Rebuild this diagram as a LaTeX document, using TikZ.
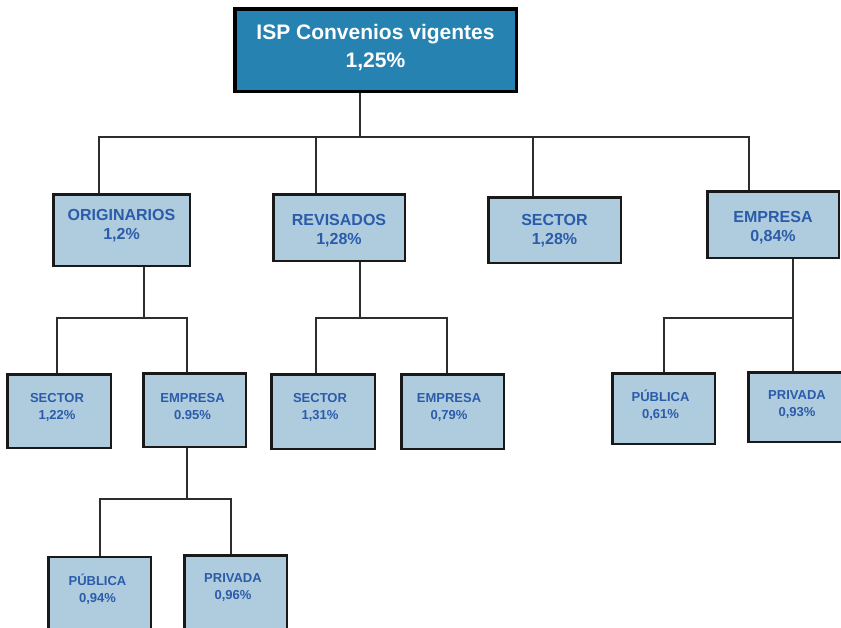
\documentclass[tikz,border=0pt]{standalone}
\usepackage{fontspec}
\setmainfont{Liberation Sans}
\definecolor{topfill}{RGB}{38,130,177}
\definecolor{lightb}{RGB}{175,203,222}
\definecolor{tblue}{RGB}{43,92,170}
\definecolor{connc}{RGB}{45,45,45}
\tikzset{
  topbox/.style={draw=black, line width=3.5pt, fill=topfill, inner sep=0pt},
  box/.style={draw=black!90, line width=2.5pt, fill=lightb, inner sep=0pt},
  toptxt/.style={font=\bfseries\fontsize{21}{28}\selectfont, text=white, align=center, inner sep=0pt},
  txtA/.style={font=\bfseries\fontsize{16}{19.5}\selectfont, text=tblue, align=center, inner sep=0pt},
  txtB/.style={font=\bfseries\fontsize{13}{17}\selectfont, text=tblue, align=center, inner sep=0pt},
  conn/.style={draw=connc, line width=1.1pt}
}
\begin{document}
\begin{tikzpicture}[x=1pt,y=-1pt]
\useasboundingbox (0,0) rectangle (841,627);
\clip (0,0) rectangle (841,627);
\fill[white] (0,0) rectangle (841,627);

% bus coordinates
\coordinate (b0) at (360,137);
\coordinate (b1) at (99,137);
\coordinate (b2) at (316,137);
\coordinate (b3) at (533,137);
\coordinate (b4) at (749,137);
\coordinate (c0) at (144,318);
\coordinate (c1) at (57,318);
\coordinate (c2) at (187,318);
\coordinate (d0) at (360,318);
\coordinate (d1) at (316,318);
\coordinate (d2) at (447,318);
\coordinate (f0) at (793,318);
\coordinate (f1) at (664,318);
\coordinate (g0) at (187,499);
\coordinate (g1) at (100,499);
\coordinate (g2) at (231,499);

% boxes
\node[topbox, minimum width=281.5pt, minimum height=82.5pt] (top) at (375.5,50) {};
\node[box, minimum width=136.5pt, minimum height=71.5pt] (orig) at (121.5,230) {};
\node[box, minimum width=131.5pt, minimum height=66.5pt] (rev) at (339,227.5) {};
\node[box, minimum width=132.5pt, minimum height=65.5pt] (sec) at (554.5,230) {};
\node[box, minimum width=131.5pt, minimum height=66.5pt] (emp) at (773,224.5) {};
\node[box, minimum width=103.5pt, minimum height=73.5pt] (s1) at (59,411) {};
\node[box, minimum width=102.5pt, minimum height=73.5pt] (e1) at (194.5,410) {};
\node[box, minimum width=103.5pt, minimum height=74.5pt] (s2) at (323,411.5) {};
\node[box, minimum width=102.5pt, minimum height=74.5pt] (e2) at (452.5,411.5) {};
\node[box, minimum width=102.5pt, minimum height=70.5pt] (pu) at (663.5,408.5) {};
\node[box, minimum width=97.5pt, minimum height=69.5pt] (pr) at (797,407) {};
\node[box, minimum width=102.5pt, minimum height=72.5pt] (pu2) at (99.5,593) {};
\node[box, minimum width=102.5pt, minimum height=73.5pt] (pr2) at (235.5,592) {};

% texts
\node[toptxt] (topt) at (375.5,47.5) {ISP Convenios vigentes\\1,25\%};
\node[txtA] (origt) at (121.5,225.5) {ORIGINARIOS\\1,2\%};
\node[txtA] (revt) at (339,230.5) {REVISADOS\\1,28\%};
\node[txtA] (sect) at (554.5,230.5) {SECTOR\\1,28\%};
\node[txtA] (empt) at (773,227.5) {EMPRESA\\0,84\%};
\node[txtB] (s1t) at (57,407.5) {SECTOR\\1,22\%};
\node[txtB] (e1t) at (192.5,406.5) {EMPRESA\\0.95\%};
\node[txtB] (s2t) at (320,407) {SECTOR\\1,31\%};
\node[txtB] (e2t) at (449,407) {EMPRESA\\0,79\%};
\node[txtB] (put) at (660.5,405.5) {PÚBLICA\\0,61\%};
\node[txtB] (prt) at (797,404.5) {PRIVADA\\0,93\%};
\node[txtB] (pu2t) at (97.5,589.5) {PÚBLICA\\0,94\%};
\node[txtB] (pr2t) at (233,588) {PRIVADA\\0,96\%};

% connectors
\draw[conn] (top.south -| b0) -- (b0);
\draw[conn] (orig.north -| b1) -- (b1) -- (b4) -- (emp.north -| b4);
\draw[conn] (b2) -- (rev.north -| b2);
\draw[conn] (b3) -- (sec.north -| b3);

\draw[conn] (orig.south -| c0) -- (c0);
\draw[conn] (s1.north -| c1) -- (c1) -- (c2) -- (e1.north -| c2);

\draw[conn] (rev.south -| d0) -- (d0);
\draw[conn] (s2.north -| d1) -- (d1) -- (d2) -- (e2.north -| d2);

\draw[conn] (emp.south -| f0) -- (pr.north -| f0);
\draw[conn] (pu.north -| f1) -- (f1) -- (f0);

\draw[conn] (e1.south -| g0) -- (g0);
\draw[conn] (pu2.north -| g1) -- (g1) -- (g2) -- (pr2.north -| g2);
\end{tikzpicture}
\end{document}
